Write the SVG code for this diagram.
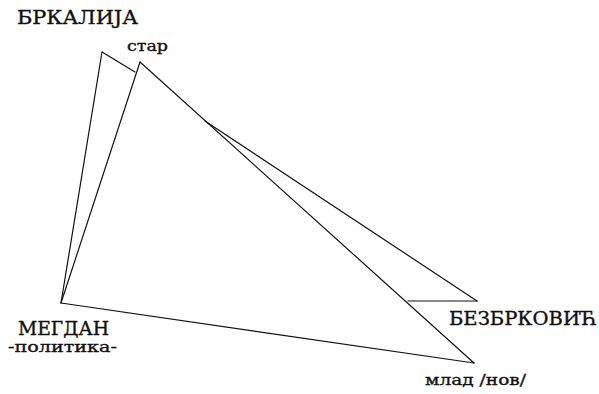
<svg xmlns="http://www.w3.org/2000/svg" width="599" height="394" viewBox="0 0 599 394">
<style>
.e{fill:none;stroke:#111;stroke-width:1.2;stroke-linecap:round}
text{font-family:"DejaVu Serif","Liberation Serif",serif;fill:#111;stroke:#111;stroke-width:0.35}
.c{font-size:18px}
.s{font-size:15px}
</style>
<rect width="599" height="394" fill="#fff"/>
<g id="connectors">
<line class="e" x1="102" y1="52" x2="61" y2="303"/>
<line class="e" x1="102" y1="52" x2="135" y2="72"/>
<line class="e" x1="205" y1="121" x2="477" y2="301"/>
<line class="e" x1="477" y1="301" x2="408" y2="301"/>
<line class="e" x1="140" y1="62" x2="61" y2="303"/>
<line class="e" x1="140" y1="62" x2="474" y2="363"/>
<line class="e" x1="61" y1="303" x2="474" y2="363"/>
</g>
<g id="brkalija"><text class="c" x="17" y="24" textLength="121" lengthAdjust="spacingAndGlyphs">БРКАЛИЈА</text></g>
<g id="star"><text class="s" x="127" y="51" textLength="41" lengthAdjust="spacingAndGlyphs">стар</text></g>
<g id="megdan"><text class="c" x="18" y="335" textLength="91" lengthAdjust="spacingAndGlyphs">МЕГДАН</text>
<text class="s" x="8" y="352" textLength="109" lengthAdjust="spacingAndGlyphs">-политика-</text></g>
<g id="bezbrkovic"><text class="c" x="449" y="325" textLength="148" lengthAdjust="spacingAndGlyphs">БЕЗБРКОВИЋ</text></g>
<g id="mlad"><text class="s" x="425" y="385" textLength="101" lengthAdjust="spacingAndGlyphs">млад /нов/</text></g>
</svg>
